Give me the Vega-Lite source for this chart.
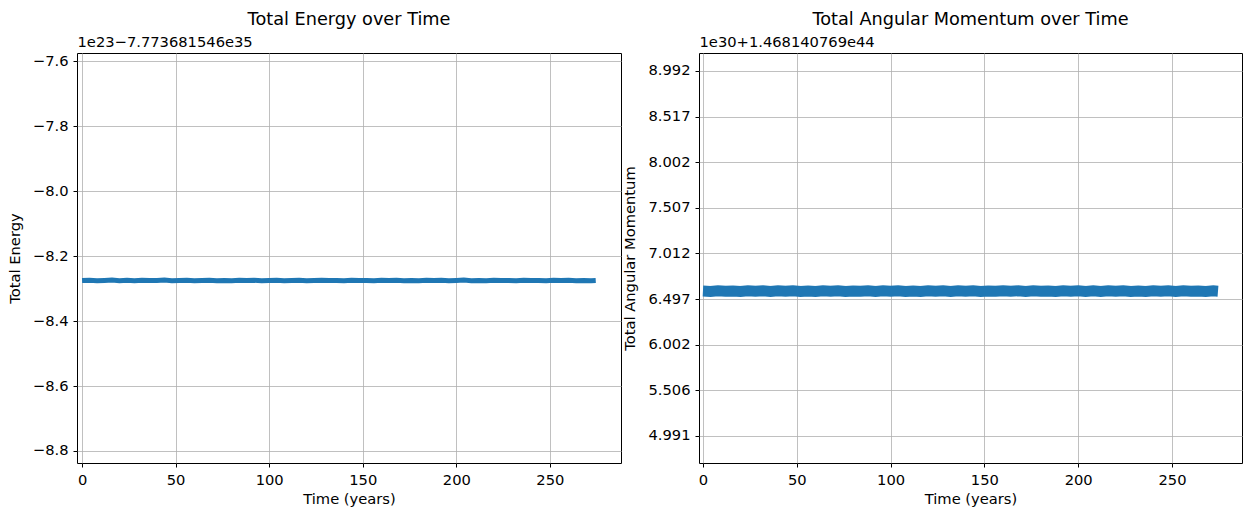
{
  "$schema": "https://vega.github.io/schema/vega-lite/v6.json",
  "padding": {"left": 6, "top": 10, "right": 5, "bottom": 5},
  "config": {
    "font": "DejaVu Sans",
    "view": {"stroke": "#000", "strokeWidth": 1},
    "axis": {"domain": false, "grid": true, "gridColor": "#b0b0b0", "gridWidth": 0.8, "tickColor": "#000", "tickSize": 4, "labelFont": "DejaVu Sans", "labelFontSize": 14.7, "labelColor": "#000", "titleFont": "DejaVu Sans", "titleFontSize": 14.7, "titleFontWeight": "normal", "titleColor": "#000", "labelPadding": 5},
    "title": {"font": "DejaVu Sans", "fontSize": 17.7, "fontWeight": "normal", "color": "#000", "offset": 5},
    "concat": {"spacing": 0}
  },
  "datasets": {
    "energy": [
      {"t":0,"e":-8.2755},{"t":4,"e":-8.2745},{"t":8,"e":-8.2760},{"t":12,"e":-8.2750},{"t":16,"e":-8.2740},{"t":20,"e":-8.2758},{"t":24,"e":-8.2748},{"t":28,"e":-8.2762},{"t":32,"e":-8.2744},{"t":36,"e":-8.2755},
      {"t":40,"e":-8.2750},{"t":44,"e":-8.2741},{"t":48,"e":-8.2759},{"t":52,"e":-8.2752},{"t":56,"e":-8.2746},{"t":60,"e":-8.2761},{"t":64,"e":-8.2749},{"t":68,"e":-8.2743},{"t":72,"e":-8.2757},{"t":76,"e":-8.2751},
      {"t":80,"e":-8.2763},{"t":84,"e":-8.2745},{"t":88,"e":-8.2754},{"t":92,"e":-8.2748},{"t":96,"e":-8.2760},{"t":100,"e":-8.2752},{"t":104,"e":-8.2742},{"t":108,"e":-8.2758},{"t":112,"e":-8.2750},{"t":116,"e":-8.2746},
      {"t":120,"e":-8.2762},{"t":124,"e":-8.2753},{"t":128,"e":-8.2744},{"t":132,"e":-8.2756},{"t":136,"e":-8.2749},{"t":140,"e":-8.2760},{"t":144,"e":-8.2743},{"t":148,"e":-8.2755},{"t":152,"e":-8.2751},{"t":156,"e":-8.2761},
      {"t":160,"e":-8.2747},{"t":164,"e":-8.2754},{"t":168,"e":-8.2742},{"t":172,"e":-8.2758},{"t":176,"e":-8.2750},{"t":180,"e":-8.2763},{"t":184,"e":-8.2746},{"t":188,"e":-8.2755},{"t":192,"e":-8.2748},{"t":196,"e":-8.2759},
      {"t":200,"e":-8.2752},{"t":204,"e":-8.2741},{"t":208,"e":-8.2757},{"t":212,"e":-8.2750},{"t":216,"e":-8.2762},{"t":220,"e":-8.2745},{"t":224,"e":-8.2754},{"t":228,"e":-8.2749},{"t":232,"e":-8.2760},{"t":236,"e":-8.2743},
      {"t":240,"e":-8.2756},{"t":244,"e":-8.2751},{"t":248,"e":-8.2761},{"t":252,"e":-8.2747},{"t":256,"e":-8.2753},{"t":260,"e":-8.2744},{"t":264,"e":-8.2758},{"t":268,"e":-8.2750},{"t":272,"e":-8.2757},{"t":274.5,"e":-8.2749}
    ],
    "mom": [
      {"t":0,"l":6.580},{"t":4,"l":6.576},{"t":8,"l":6.583},{"t":12,"l":6.577},{"t":16,"l":6.581},{"t":20,"l":6.575},{"t":24,"l":6.584},{"t":28,"l":6.578},{"t":32,"l":6.582},{"t":36,"l":6.575},
      {"t":40,"l":6.583},{"t":44,"l":6.577},{"t":48,"l":6.584},{"t":52,"l":6.576},{"t":56,"l":6.581},{"t":60,"l":6.575},{"t":64,"l":6.582},{"t":68,"l":6.578},{"t":72,"l":6.584},{"t":76,"l":6.576},
      {"t":80,"l":6.580},{"t":84,"l":6.577},{"t":88,"l":6.583},{"t":92,"l":6.575},{"t":96,"l":6.582},{"t":100,"l":6.578},{"t":104,"l":6.584},{"t":108,"l":6.576},{"t":112,"l":6.581},{"t":116,"l":6.575},
      {"t":120,"l":6.583},{"t":124,"l":6.577},{"t":128,"l":6.582},{"t":132,"l":6.575},{"t":136,"l":6.584},{"t":140,"l":6.578},{"t":144,"l":6.582},{"t":148,"l":6.575},{"t":152,"l":6.580},{"t":156,"l":6.577},
      {"t":160,"l":6.584},{"t":164,"l":6.578},{"t":168,"l":6.582},{"t":172,"l":6.576},{"t":176,"l":6.583},{"t":180,"l":6.577},{"t":184,"l":6.581},{"t":188,"l":6.575},{"t":192,"l":6.582},{"t":196,"l":6.578},
      {"t":200,"l":6.584},{"t":204,"l":6.576},{"t":208,"l":6.582},{"t":212,"l":6.575},{"t":216,"l":6.583},{"t":220,"l":6.577},{"t":224,"l":6.584},{"t":228,"l":6.576},{"t":232,"l":6.580},{"t":236,"l":6.575},
      {"t":240,"l":6.583},{"t":244,"l":6.578},{"t":248,"l":6.582},{"t":252,"l":6.576},{"t":256,"l":6.584},{"t":260,"l":6.577},{"t":264,"l":6.581},{"t":268,"l":6.576},{"t":272,"l":6.582},{"t":274.5,"l":6.578}
    ]
  },
  "hconcat": [
    {
      "width": 544, "height": 410,
      "title": {"text": "Total Energy over Time"},
      "data": {"name": "energy"},
      "layer": [
        {
          "mark": {"type": "line", "color": "#1f77b4", "strokeWidth": 5},
          "encoding": {
            "x": {"field": "t", "type": "quantitative", "scale": {"domain": [-2.7, 288], "nice": false, "zero": false}, "axis": {"values": [0, 50, 100, 150, 200, 250], "title": "Time (years)", "titlePadding": 5}},
            "y": {"field": "e", "type": "quantitative", "scale": {"domain": [-8.837, -7.575], "nice": false, "zero": false}, "axis": {"values": [-8.8, -8.6, -8.4, -8.2, -8.0, -7.8, -7.6], "title": "Total Energy", "labelExpr": "replace(format(datum.value, '.1f'), '-', '−')", "titlePadding": 10}}
          }
        },
        {
          "mark": {"type": "rule", "opacity": 0},
          "encoding": {
            "x": {"field": "t", "type": "quantitative", "axis": {"orient": "top", "title": "1e23−7.773681546e35", "titleAnchor": "start", "labels": false, "ticks": false, "grid": false, "titlePadding": 4}}
          }
        }
      ],
      "resolve": {"axis": {"x": "independent"}}
    },
    {
      "width": 543, "height": 410,
      "title": {"text": "Total Angular Momentum over Time"},
      "data": {"name": "mom"},
      "layer": [
        {
          "mark": {"type": "line", "color": "#1f77b4", "strokeWidth": 11},
          "encoding": {
            "x": {"field": "t", "type": "quantitative", "scale": {"domain": [-2.1, 287.3], "nice": false, "zero": false}, "axis": {"values": [0, 50, 100, 150, 200, 250], "title": "Time (years)", "titlePadding": 5}},
            "y": {"field": "l", "type": "quantitative", "scale": {"domain": [4.695, 9.189], "nice": false, "zero": false}, "axis": {"values": [4.991, 5.491125, 5.99125, 6.491375, 6.9915, 7.491625, 7.99175, 8.491875, 8.992], "title": "Total Angular Momentum", "labelExpr": "datum.value < 5.2 ? '4.991' : datum.value < 5.7 ? '5.506' : datum.value < 6.2 ? '6.002' : datum.value < 6.7 ? '6.497' : datum.value < 7.2 ? '7.012' : datum.value < 7.7 ? '7.507' : datum.value < 8.2 ? '8.002' : datum.value < 8.7 ? '8.517' : '8.992'", "titlePadding": 10}}
          }
        },
        {
          "mark": {"type": "rule", "opacity": 0},
          "encoding": {
            "x": {"field": "t", "type": "quantitative", "axis": {"orient": "top", "title": "1e30+1.468140769e44", "titleAnchor": "start", "labels": false, "ticks": false, "grid": false, "titlePadding": 4}}
          }
        }
      ],
      "resolve": {"axis": {"x": "independent"}}
    }
  ]
}
